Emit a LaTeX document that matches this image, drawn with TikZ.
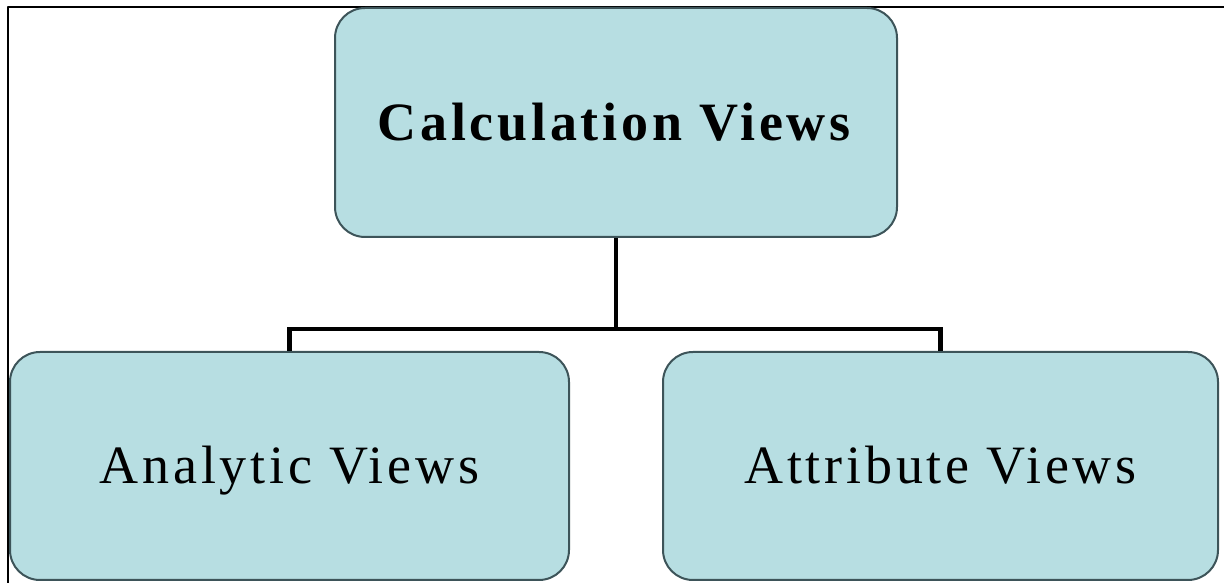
\documentclass[tikz,border=0pt]{standalone}
\usepackage{fontspec}
\setmainfont{Liberation Serif}[LetterSpace=7]
\usepackage[x11names, svgnames, rgb]{xcolor}
\usepackage{tikz}
\usetikzlibrary{arrows,shapes}

\definecolor{boxfill}{rgb}{0.718,0.871,0.886}
\definecolor{boxline}{rgb}{0.24,0.33,0.35}

\tikzset{
  viewbox/.style={draw=boxline, fill=boxfill, line width=2bp, rounded corners=30bp,
    inner sep=0pt, text height=35.7bp, text depth=0pt,
    font=\fontsize{54bp}{60bp}\selectfont},
  link/.style={draw=black, line width=4.5bp, line join=miter},
}

\begin{document}
\begin{tikzpicture}[>=latex',line join=bevel,]
  \useasboundingbox (0bp,0bp) rectangle (1224bp,583bp);
%%
  % Frame
  \draw [line width=2bp] (8bp,0bp) -- (8bp,576bp) -- (1224bp,576bp);
  % Node: calc
  \node [viewbox, minimum width=562bp, minimum height=229bp] (calc) at (616bp,460.5bp) {\textbf{Calculation Views}};
  % Node: analytic
  \node [viewbox, minimum width=559bp, minimum height=228bp] (analytic) at (289.5bp,117bp) {Analytic Views};
  % Node: attribute
  \node [viewbox, minimum width=555bp, minimum height=228bp] (attribute) at (940.5bp,117bp) {Attribute Views};
  % Fork point
  \coordinate (fork) at (616bp,254bp);
  % Edge: calc -> fork
  \draw [link] (calc.south) -- (fork);
  % Edge: fork -> analytic, attribute
  \draw [link] (analytic.north) |- (fork) -| (attribute.north);
%
\end{tikzpicture}
\end{document}
